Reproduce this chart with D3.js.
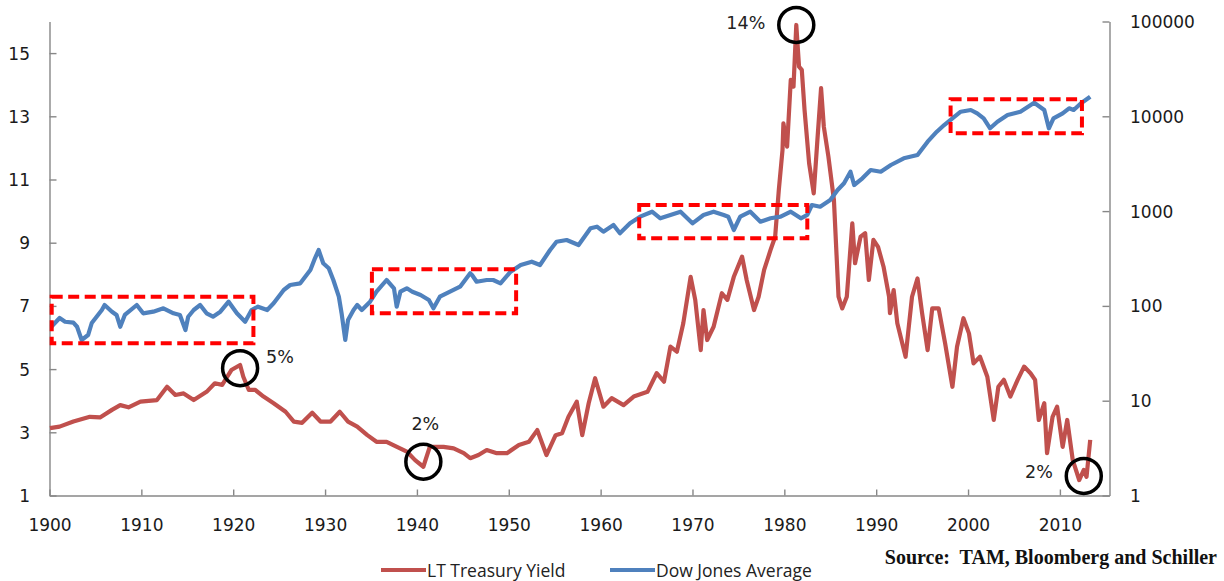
<!DOCTYPE html>
<html lang="en">
<head>
    <meta charset="utf-8">
    <title>LT Treasury Yield vs Dow Jones</title>
    <style>
        body { margin: 0; background: #fff; }
        .tick text { font-family: 'DejaVu Sans', Verdana, sans-serif; font-size: 17px; fill: #1a1a1a; }
        .tick line, .domain { stroke: #878787; stroke-width: 1.4; }
        .note { font-family: 'DejaVu Sans', Verdana, sans-serif; font-size: 17.5px; fill: #222; }
        .legend { font-family: 'Open Sans', sans-serif; font-size: 17.5px; fill: #222; }
        .source { font-family: 'Liberation Serif', 'Times New Roman', serif; font-weight: bold; font-size: 20px; fill: #111; white-space: pre; }
    </style>
    <script src="https://d3js.org/d3.v7.min.js" charset="utf-8"></script>
</head>
<body>
    <svg id="chart" width="1224" height="581"></svg>

    <script type="text/javascript">
      // long term treasury yield, % (left axis)
      var treasury = [
        [1900.05,3.13],[1901.1,3.18],[1902.6,3.34],[1904.4,3.49],[1905.5,3.47],[1906.8,3.71],
        [1907.7,3.86],[1908.6,3.79],[1909.9,3.97],[1911.7,4.02],[1912.8,4.44],[1913.7,4.18],
        [1914.6,4.23],[1915.7,4.02],[1917.1,4.28],[1918.0,4.55],[1918.8,4.50],[1919.8,4.97],
        [1920.75,5.13],[1921.1,4.76],[1921.7,4.34],[1922.4,4.34],[1923.3,4.13],[1924.4,3.92],
        [1925.7,3.65],[1926.6,3.34],[1927.5,3.30],[1928.6,3.62],[1929.5,3.34],[1930.6,3.34],
        [1931.6,3.65],[1932.5,3.34],[1933.5,3.18],[1934.6,2.91],[1935.6,2.70],[1936.7,2.70],
        [1937.6,2.57],[1938.9,2.39],[1939.8,2.12],[1940.7,1.91],[1941.4,2.54],[1942.9,2.54],
        [1944.0,2.49],[1945.1,2.34],[1945.8,2.18],[1946.7,2.28],[1947.6,2.44],[1948.7,2.34],
        [1949.8,2.34],[1951.1,2.60],[1952.2,2.70],[1953.1,3.07],[1954.1,2.28],[1955.1,2.91],
        [1955.8,2.97],[1956.5,3.49],[1957.4,3.97],[1958.0,2.91],[1958.7,3.92],[1959.4,4.71],
        [1960.3,3.81],[1961.2,4.08],[1962.5,3.86],[1963.6,4.13],[1965.1,4.28],[1966.1,4.87],
        [1966.9,4.60],[1967.6,5.71],[1968.3,5.55],[1969.0,6.45],[1969.8,7.92],[1970.3,7.19],
        [1970.9,5.60],[1971.2,6.87],[1971.6,5.92],[1972.3,6.34],[1973.2,7.40],[1973.8,7.19],
        [1974.5,7.92],[1975.4,8.56],[1975.9,7.82],[1976.7,6.87],[1977.2,7.29],[1977.8,8.14],
        [1978.5,8.77],[1979.0,9.19],[1979.4,10.67],[1979.8,11.93],[1979.9,12.78],[1980.3,12.04],
        [1980.7,14.15],[1981.0,13.94],[1981.3,15.89],[1981.6,14.57],[1981.9,14.47],[1982.2,13.20],
        [1982.7,11.51],[1983.2,10.56],[1983.6,12.25],[1984.0,13.89],[1984.3,12.67],[1984.8,11.72],
        [1985.4,10.35],[1985.9,7.29],[1986.3,6.92],[1986.8,7.29],[1987.4,9.61],[1987.7,8.35],
        [1988.3,9.19],[1988.8,9.30],[1989.2,7.82],[1989.7,9.09],[1990.2,8.87],[1990.8,8.24],
        [1991.4,7.29],[1991.5,6.77],[1991.9,7.50],[1992.3,6.45],[1993.2,5.39],[1993.9,7.29],
        [1994.5,7.87],[1995.0,6.77],[1995.6,5.60],[1996.1,6.92],[1996.8,6.92],[1997.5,5.82],
        [1998.3,4.44],[1998.8,5.71],[1999.5,6.61],[2000.1,6.13],[2000.6,5.18],[2001.3,5.39],
        [2002.1,4.76],[2002.8,3.39],[2003.3,4.44],[2003.9,4.66],[2004.6,4.13],[2005.4,4.66],
        [2006.1,5.08],[2006.8,4.87],[2007.3,4.66],[2007.7,3.39],[2008.3,3.92],[2008.6,2.34],
        [2009.2,3.49],[2009.7,3.81],[2010.3,2.54],[2010.8,3.39],[2011.4,2.12],[2012.1,1.49],
        [2012.6,1.81],[2012.9,1.59],[2013.3,2.76]
      ];

      // dow jones average (right axis, log)
      var dow = [
        [1900.2,60.3],[1901.1,74.6],[1901.7,68.1],[1902.6,66.5],[1903.0,60.3],[1903.5,43.7],
        [1904.2,49.3],[1904.6,66.0],[1905.7,90.5],[1906.0,102.2],[1906.8,86.9],[1907.3,80.2],
        [1907.7,60.3],[1908.2,80.2],[1909.5,102.2],[1910.2,83.5],[1911.3,86.9],[1912.4,94.3],
        [1913.5,83.5],[1914.2,80.2],[1914.8,55.7],[1915.1,76.9],[1915.7,90.5],[1916.4,102.2],
        [1917.1,83.5],[1917.8,76.9],[1918.6,86.9],[1919.5,110.7],[1920.4,83.5],[1921.3,68.1],
        [1922.0,90.5],[1922.7,98.1],[1923.7,90.5],[1924.4,106.5],[1925.5,147.2],[1926.2,166.1],
        [1927.3,173.1],[1928.4,239.1],[1928.9,317.8],[1929.3,388.8],[1929.8,281.4],[1930.4,249.2],
        [1930.9,187.6],[1931.5,125.0],[1931.8,83.5],[1932.2,43.7],[1932.5,71.0],[1933.1,90.5],
        [1933.5,102.2],[1934.0,90.5],[1934.9,110.7],[1935.6,141.2],[1936.7,187.6],[1937.5,153.4],
        [1937.8,98.1],[1938.2,141.2],[1938.9,153.4],[1939.5,141.2],[1940.4,130.3],[1941.3,115.4],
        [1941.8,94.3],[1942.5,125.0],[1943.6,141.2],[1944.7,159.4],[1945.8,220.8],[1946.0,211.8],
        [1946.5,180.0],[1947.6,187.6],[1948.3,187.6],[1949.1,173.1],[1950.2,229.5],[1951.3,270.0],
        [1952.5,292.6],[1953.4,270.0],[1954.5,388.8],[1955.2,475.6],[1956.3,495.6],[1957.6,438.9],
        [1958.9,658.5],[1959.6,684.5],[1960.3,606.3],[1961.4,713.5],[1962.1,583.2],[1963.2,743.5],
        [1964.3,873.1],[1965.6,985.6],[1966.5,839.9],[1967.6,909.9],[1968.7,985.6],[1970.0,743.5],
        [1971.2,909.9],[1972.3,985.6],[1973.4,909.9],[1973.9,873.1],[1974.5,631.8],[1975.2,873.1],
        [1976.3,985.6],[1977.4,773.0],[1978.5,839.9],[1979.6,873.1],[1980.7,985.6],[1981.8,839.9],
        [1982.5,909.9],[1983.0,1159.7],[1983.9,1112.9],[1985.0,1309.6],[1985.8,1669.6],[1986.5,1964.6],
        [1987.2,2603.3],[1987.6,1885.2],[1988.5,2218.1],[1989.4,2713],[1990.5,2603],[1991.6,3064],
        [1993.0,3606],[1994.5,3907],[1995.6,5397],[1996.6,6880],[1997.4,8094],[1998.3,9526],
        [1999.2,11183],[2000.3,11655],[2001.0,10755],[2001.7,9526],[2002.4,7470],[2003.2,8770],
        [2004.3,10320],[2005.7,11183],[2007.2,13913],[2008.3,11655],[2008.8,7470],[2009.3,9526],
        [2010.3,10755],[2011.0,12145],[2011.5,11655],[2012.3,13710],[2013.3,16100]
      ];

      var xTicks = [1900,1910,1920,1930,1940,1950,1960,1970,1980,1990,2000,2010];
      var leftTicks = [1,3,5,7,9,11,13,15];
      var rightTicks = [1,10,100,1000,10000,100000];

      // dashed boxes round the flat Dow periods (years, Dow values)
      var boxes = [
        {from:1900.24, to:1922.2, top:125, bottom:40.3},
        {from:1935.1, to:1950.8, top:243, bottom:83.5},
        {from:1964.2, to:1982.5, top:1160, bottom:517},
        {from:1998.1, to:2012.4, top:15110, bottom:6620}
      ];

      // circled yield extremes (years, yield %)
      var circles = [
        {year:1920.75, value:5.03, label:"5%", dx:26, dy:-11, anchor:"start"},
        {year:1940.7, value:2.07, label:"2%", dx:2, dy:-38, anchor:"middle"},
        {year:1981.3, value:15.89, label:"14%", dx:-31, dy:-2, anchor:"end"},
        {year:2012.6, value:1.62, label:"2%", dx:-31, dy:-4, anchor:"end"}
      ];

      var plotL = 49.5, plotR = 1109.5, plotT = 21.5, plotB = 495.5;
      var svg = d3.select("#chart");

      var x = d3.scaleLinear().domain([1900, 2015.4]).range([plotL, plotR]);
      var yL = d3.scaleLinear().domain([1, 16]).range([plotB, plotT]);
      var yR = d3.scaleLog().domain([1, 100000]).range([plotB, plotT]);

      svg.append("g")
        .attr("transform", "translate(0," + plotB + ")")
        .call(d3.axisBottom(x).tickValues(xTicks).tickFormat(d3.format("d"))
              .tickSizeInner(-6).tickSizeOuter(0).tickPadding(29.5));

      svg.append("g")
        .attr("transform", "translate(" + plotL + ",0)")
        .call(d3.axisLeft(yL).tickValues(leftTicks).tickSizeInner(-7).tickSizeOuter(0).tickPadding(19.5));

      svg.append("g")
        .attr("transform", "translate(" + plotR + ",0)")
        .call(d3.axisRight(yR).tickValues(rightTicks).tickFormat(d3.format("d"))
              .tickSizeInner(-7).tickSizeOuter(0).tickPadding(20.5));

      svg.selectAll(".tick text").attr("dy", null).attr("dominant-baseline", "central");

      var lineL = d3.line().x(d => x(d[0])).y(d => yL(d[1]));
      var lineR = d3.line().x(d => x(d[0])).y(d => yR(d[1]));

      svg.append("path")
        .attr("d", lineL(treasury))
        .attr("fill", "none")
        .attr("stroke", "#C0504D")
        .attr("stroke-width", 4.2)
        .attr("stroke-linejoin", "round");

      svg.append("path")
        .attr("d", lineR(dow))
        .attr("fill", "none")
        .attr("stroke", "#4F81BD")
        .attr("stroke-width", 4.2)
        .attr("stroke-linejoin", "round");

      svg.selectAll(".box")
        .data(boxes)
        .enter().append("rect")
        .attr("x", d => x(d.from))
        .attr("y", d => yR(d.top))
        .attr("width", d => x(d.to) - x(d.from))
        .attr("height", d => yR(d.bottom) - yR(d.top))
        .attr("fill", "none")
        .attr("stroke", "#FF0000")
        .attr("stroke-width", 4)
        .attr("stroke-dasharray", "11,5.5");

      svg.selectAll(".ring")
        .data(circles)
        .enter().append("circle")
        .attr("cx", d => x(d.year))
        .attr("cy", d => yL(d.value))
        .attr("r", 17.5)
        .attr("fill", "none")
        .attr("stroke", "#000")
        .attr("stroke-width", 3.5);

      svg.selectAll(".note")
        .data(circles)
        .enter().append("text")
        .attr("class", "note")
        .attr("x", d => x(d.year) + d.dx)
        .attr("y", d => yL(d.value) + d.dy)
        .attr("text-anchor", d => d.anchor)
        .attr("dominant-baseline", "central")
        .text(d => d.label);

      // legend
      var legend = [
        {name:"LT Treasury Yield", color:"#C0504D", x:381},
        {name:"Dow Jones Average", color:"#4F81BD", x:610}
      ];
      legend.forEach(function(l) {
        svg.append("line")
          .attr("x1", l.x).attr("x2", l.x + 45)
          .attr("y1", 570).attr("y2", 570)
          .attr("stroke", l.color).attr("stroke-width", 4);
        svg.append("text")
          .attr("class", "legend")
          .attr("x", l.x + 46).attr("y", 570)
          .attr("dominant-baseline", "central")
          .text(l.name);
      });

      svg.append("text")
        .attr("class", "source")
        .attr("x", 1217).attr("y", 557)
        .attr("text-anchor", "end")
        .attr("dominant-baseline", "central")
        .text("Source:  TAM, Bloomberg and Schiller");
    </script>
</body>
</html>
